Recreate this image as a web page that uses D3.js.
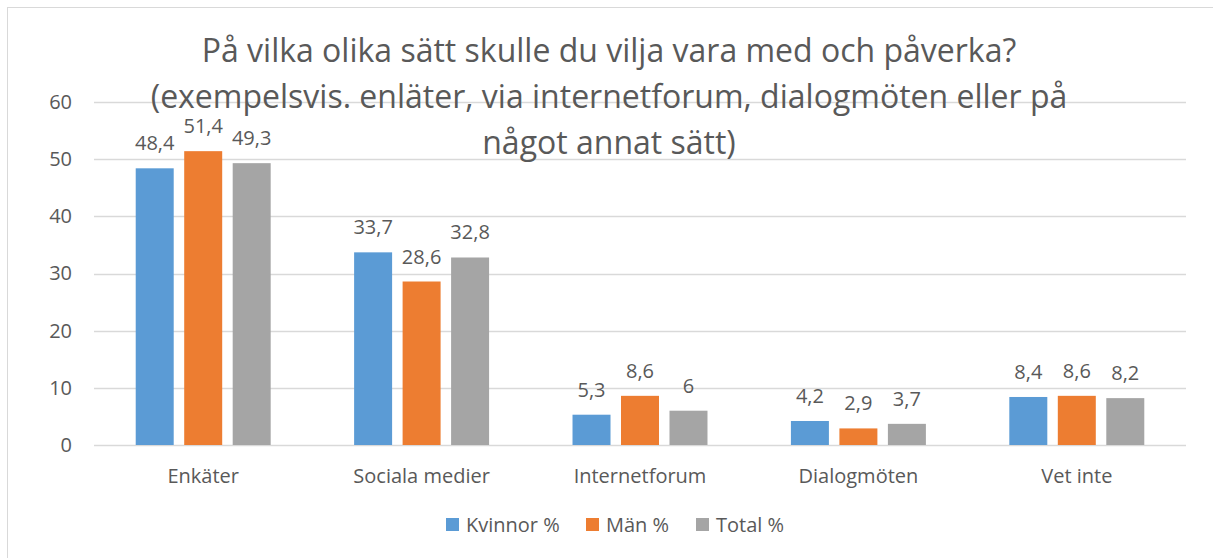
<!DOCTYPE html>
<html>
<head>
<meta charset="utf-8">
<script src="https://cdn.jsdelivr.net/npm/d3@7"></script>
<style>
  body { margin: 0; background: #fff; }
  svg text { font-family: "Open Sans", "Noto Sans", sans-serif; fill: #595959; }
</style>
</head>
<body>
<svg width="1213" height="558"></svg>
<script>
var categories = ["Enkäter", "Sociala medier", "Internetforum", "Dialogmöten", "Vet inte"];
var seriesNames = ["Kvinnor %", "Män %", "Total %"];
var kvinnor = [48.4, 33.7, 5.3, 4.2, 8.4];
var man = [51.4, 28.6, 8.6, 2.9, 8.6];
var total = [49.3, 32.8, 6, 3.7, 8.2];
var yTicks = [0, 10, 20, 30, 40, 50, 60];
var titleLines = [
  "På vilka olika sätt skulle du vilja vara med och påverka?",
  "(exempelsvis. enläter, via internetforum, dialogmöten eller på",
  "något annat sätt)"
];

var colors = ["#5B9BD5", "#ED7D31", "#A5A5A5"];
var values = [kvinnor, man, total];

var svg = d3.select("svg"),
	margin = {top: 102, right: 27, bottom: 113, left: 94},
	width = +svg.attr("width") - margin.left - margin.right,
	height = +svg.attr("height") - margin.top - margin.bottom;

// chart border
svg.append("rect")
	.attr("x", 7.5).attr("y", 7.5)
	.attr("width", 1220).attr("height", 560)
	.attr("fill", "none")
	.attr("stroke", "#D9D9D9");

var g = svg.append("g").attr("transform", "translate(" + margin.left + "," + margin.top + ")");

var x0 = d3.scaleBand().domain(categories).range([0, width]).paddingInner(0.382).paddingOuter(0.191);
var x1 = d3.scaleBand().domain(d3.range(seriesNames.length)).range([0, x0.bandwidth()]).paddingInner(0.2165);
var y = d3.scaleLinear().domain([0, 60]).range([height, 0]);

// gridlines
g.selectAll(".grid")
	.data(yTicks)
	.enter().append("line")
	.attr("x1", 0).attr("x2", width)
	.attr("y1", function(d) { return Math.round(y(d)) + 0.5; })
	.attr("y2", function(d) { return Math.round(y(d)) + 0.5; })
	.attr("stroke", "#D9D9D9")
	.attr("stroke-width", 1.3);

var yAxis = g.append("g")
	.call(d3.axisLeft(y).tickValues(yTicks).tickSize(0).tickPadding(22));
yAxis.select(".domain").remove();
yAxis.selectAll("text").style("font-size", "20px").attr("fill", "#595959");

var xAxis = g.append("g")
	.attr("transform", "translate(0," + height + ")")
	.call(d3.axisBottom(x0).tickSize(0).tickPadding(24));
xAxis.select(".domain").remove();
xAxis.selectAll("text").style("font-size", "20px").attr("fill", "#595959");

var fmt = function(v) { return String(v).replace(".", ","); };

var cat = g.selectAll(".cat")
	.data(categories)
	.enter().append("g")
	.attr("transform", function(d) { return "translate(" + x0(d) + ",0)"; });

cat.selectAll("rect")
	.data(function(d, i) { return values.map(function(s, j) { return {s: j, v: s[i]}; }); })
	.enter().append("rect")
	.attr("x", function(d) { return x1(d.s); })
	.attr("width", x1.bandwidth())
	.attr("y", function(d) { return y(d.v); })
	.attr("height", function(d) { return height - y(d.v); })
	.attr("fill", function(d) { return colors[d.s]; });

cat.selectAll(".lbl")
	.data(function(d, i) { return values.map(function(s, j) { return {s: j, v: s[i]}; }); })
	.enter().append("text")
	.attr("x", function(d) { return x1(d.s) + x1.bandwidth() / 2; })
	.attr("y", function(d) { return y(d.v) - 18; })
	.attr("text-anchor", "middle")
	.style("font-size", "20px")
	.text(function(d) { return fmt(d.v); });

// title, on top of gridlines
svg.append("g").selectAll("text")
	.data(titleLines)
	.enter().append("text")
	.attr("x", 609)
	.attr("y", function(d, i) { return 62 + i * 46; })
	.attr("text-anchor", "middle")
	.style("font-size", "32px")
	.text(function(d) { return d; });

// legend
var legend = svg.append("g").attr("transform", "translate(446,518)");
var lx = [0, 140, 250];
seriesNames.forEach(function(name, i) {
	var item = legend.append("g").attr("transform", "translate(" + lx[i] + ",0)");
	item.append("rect").attr("width", 13).attr("height", 13).attr("fill", colors[i]);
	item.append("text").attr("x", 20).attr("y", 14).style("font-size", "20px").text(name);
});
</script>
</body>
</html>
